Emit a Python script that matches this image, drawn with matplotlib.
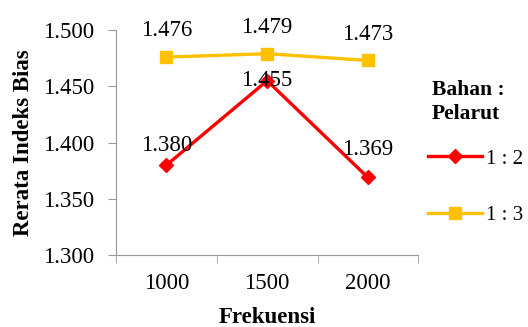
import matplotlib.pyplot as plt

frekuensi = ["1000", "1500", "2000"]
rasio_12 = [1.380, 1.455, 1.369]
rasio_13 = [1.476, 1.479, 1.473]
series_names = ["1 : 2", "1 : 3"]

plt.rcParams["font.family"] = ["Liberation Serif", "DejaVu Serif"]
fs = 16.5

fig = plt.figure(figsize=(5.28, 3.27), dpi=100)
ax = fig.add_axes([0.22, 0.22, 0.572, 0.688])

x = list(range(len(frekuensi)))
ax.plot(x, rasio_12, "-D", color="#FF0000", lw=2.4, ms=7, label=series_names[0])
ax.plot(x, rasio_13, "-s", color="#FFC000", lw=2.4, ms=8, label=series_names[1])

# data labels (offsets in points)
off_12 = [14, 0, 20]
for xi, v, dy in zip(x, rasio_12, off_12):
    ax.annotate(f"{v:.3f}", (xi, v), xytext=(0, dy), textcoords="offset points",
                ha="center", va="center", fontsize=fs, zorder=5)
for xi, v in zip(x, rasio_13):
    ax.annotate(f"{v:.3f}", (xi, v), xytext=(0, 19), textcoords="offset points",
                ha="center", va="center", fontsize=fs, annotation_clip=False)

ax.set_xlim(-0.5, 2.5)
ax.set_ylim(1.300, 1.500)
ax.set_yticks([1.300, 1.350, 1.400, 1.450, 1.500])
ax.set_yticklabels([f"{t:.3f}" for t in ax.get_yticks()])
ax.set_xticks(x)
ax.set_xticklabels(frekuensi)
ax.set_xticks([-0.5, 0.5, 1.5, 2.5], minor=True)
ax.tick_params(axis="x", which="major", length=0, pad=13, labelsize=fs)
ax.tick_params(axis="x", which="minor", length=6, color="#999999")
ax.tick_params(axis="y", length=6, color="#999999", labelsize=fs, pad=10)

for s in ["top", "right"]:
    ax.spines[s].set_visible(False)
for s in ["left", "bottom"]:
    ax.spines[s].set_color("#999999")

ax.set_xlabel("Frekuensi", fontsize=fs, fontweight="bold", labelpad=9)
ax.set_ylabel("Rerata Indeks Bias", fontsize=fs, fontweight="bold", labelpad=6)

# legend title as separate text, entries below it
fig.text(432 / 528, 1 - 102 / 327, "Bahan :\nPelarut", fontsize=15.5,
         fontweight="bold", ha="left", va="center", linespacing=1.3)
leg = fig.legend(loc="center left", bbox_to_anchor=(428 / 528, 1 - 187 / 327),
                 frameon=False, fontsize=15, handlelength=2.6, labelspacing=1.75,
                 handletextpad=0.2, borderaxespad=0.0, borderpad=0.0)

fig.savefig("out.png")
